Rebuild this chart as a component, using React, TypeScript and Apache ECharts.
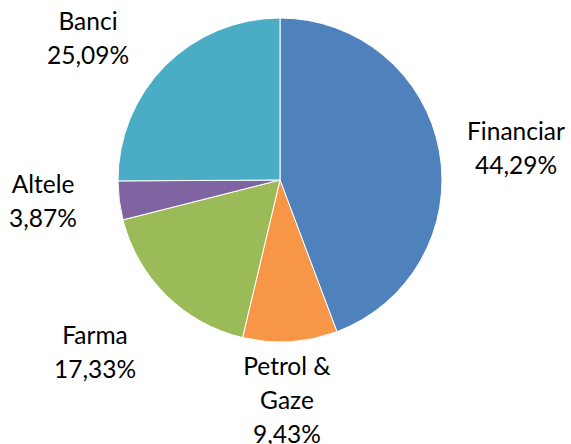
import React, { useEffect, useRef } from "react";
import * as echarts from "echarts";

const categories = ["Financiar", "Petrol &\nGaze", "Farma", "Altele", "Banci"];
const values = [44.29, 9.43, 17.33, 3.87, 25.09];
const colors = ["#4F81BD", "#F79646", "#9BBB59", "#8064A2", "#4BACC6"];
const labelCenters = [
  [516, 147],
  [287, 399],
  [95, 351],
  [43, 200],
  [88, 37],
];

export default function App() {
  const ref = useRef<HTMLDivElement>(null);
  useEffect(() => {
    document.body.style.margin = "0";
    document.body.style.overflow = "hidden";
    const chart = echarts.init(ref.current!, null, { renderer: "svg" });
    chart.setOption({
      animation: false,
      backgroundColor: "#ffffff",
      series: [
        {
          type: "pie",
          center: [280, 180],
          radius: 162,
          startAngle: 90,
          clockwise: true,
          data: categories.map((name, i) => ({
            name,
            value: values[i],
            itemStyle: { color: colors[i] },
          })),
          itemStyle: { borderColor: "#ffffff", borderWidth: 1 },
          label: {
            show: true,
            position: "outside",
            formatter: (p: any) => p.name + "\n" + p.value.toFixed(2).replace(".", ",") + "%",
            fontFamily: "Lato",
            fontSize: 24.5,
            color: "#000000",
            lineHeight: 34,
            align: "center",
            overflow: "none",
          },
          labelLine: { show: false },
          labelLayout: (p: any) => ({
            x: labelCenters[p.dataIndex][0],
            y: labelCenters[p.dataIndex][1],
            align: "center",
            verticalAlign: "middle",
          }),
        },
      ],
    });
    return () => chart.dispose();
  }, []);
  return <div ref={ref} style={{ width: 571, height: 444 }} />;
}
